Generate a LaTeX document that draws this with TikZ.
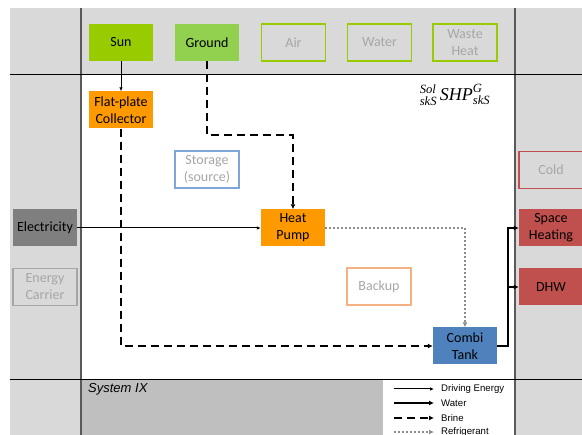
\documentclass[tikz,border=0pt]{standalone}
\usepackage{amsmath}
\usepackage{fontspec}
\setmainfont{Carlito}
\newfontfamily\arialfont{Liberation Sans}
\newfontfamily\timesfont{Liberation Serif}
\usetikzlibrary{arrows.meta}

\definecolor{bggray}{HTML}{D9D9D9}
\definecolor{botgray}{HTML}{BFBFBF}
\definecolor{framegray}{HTML}{595959}
\definecolor{dimtext}{HTML}{A6A6A6}
\definecolor{sungreen}{HTML}{99CC00}
\definecolor{gndgreen}{HTML}{92D050}
\definecolor{hporange}{HTML}{FF9900}
\definecolor{bkorange}{HTML}{F4B183}
\definecolor{tankblue}{HTML}{4F81BD}
\definecolor{stblue}{HTML}{7EA6D8}
\definecolor{sinkred}{HTML}{C0504D}
\definecolor{elecgray}{HTML}{7F7F7F}
\definecolor{refgray}{HTML}{8C8C8C}

\begin{document}
\begin{tikzpicture}[x=1pt,y=-1pt,
  box/.style={minimum width=64pt,minimum height=37pt,inner sep=0pt,
    align=center,font=\fontsize{14}{17}\selectfont},
  unused/.style={box,draw,line width=1.3pt,fill=bggray,text=dimtext},
  drive/.style={line width=1pt,-{Latex[length=4pt,width=3.5pt]}},
  water/.style={line width=2pt,-{Latex[length=5pt,width=5pt]}},
  brine/.style={line width=2pt,dash pattern=on 8pt off 5pt,-{Latex[length=5pt,width=5pt]}},
  refrig/.style={line width=2pt,refgray,dash pattern=on 2pt off 2pt,-{Latex[length=5pt,width=5pt]}},
  legtext/.style={anchor=west,inner sep=0pt,font=\arialfont\fontsize{9.6}{10}\selectfont}]
  \useasboundingbox (0,0) rectangle (582,435);
  \clip (0,0) rectangle (582,435);
  % background fields
  \fill[bggray] (10,8) rectangle (582,435);
  \fill[white] (81,74) rectangle (515,379);
  \fill[botgray] (81,379) rectangle (515,435);
  \fill[white] (383,379) rectangle (515,435);
  \draw[framegray,line width=1.2pt] (81,8) -- (81,435);
  \draw[framegray,line width=1.2pt] (515,8) -- (515,435);
  \draw[line width=0.8pt] (10,74) -- (582,74);
  \draw[line width=0.8pt] (10,379) -- (582,379);
  % instantiate nodes
  \node[box,fill=sungreen] (Sun) at (121,42.5) {Sun};
  \node[box,fill=gndgreen] (Gnd) at (207,42.5) {Ground};
  \node[unused,draw=sungreen] (Air) at (293.5,42.5) {Air};
  \node[unused,draw=sungreen] (Wat) at (379.5,42.5) {Water};
  \node[unused,draw=sungreen] (WH) at (465,42.5) {Waste\\Heat};
  \node[box,fill=hporange] (FPC) at (121,110) {Flat-plate\\Collector};
  \node[unused,draw=stblue,fill=white] (Sto) at (207,169.5) {Storage\\(source)};
  \node[box,fill=elecgray] (Elec) at (45,228) {Electricity};
  \node[unused,draw=dimtext] (EC) at (45,287) {Energy\\Carrier};
  \node[box,fill=hporange] (HP) at (293,228) {Heat\\Pump};
  \node[unused,draw=bkorange,fill=white] (Bak) at (379,286.5) {Backup};
  \node[box,fill=tankblue] (CT) at (465,346) {Combi\\Tank};
  \node[unused,draw=sinkred] (Cold) at (551,170) {Cold};
  \node[box,fill=sinkred] (SH) at (551,228) {Space\\Heating};
  \node[box,fill=sinkred] (DHW) at (551,287) {DHW};
  % system label and name
  \node[font=\timesfont\fontsize{18}{19}\selectfont] (Name) at (455,95)
    {$ {}^{\textit{Sol}}_{\textit{skS}}\,\textit{SHP}^{\textit{G}}_{\textit{skS}} $};
  \node[anchor=north west,inner sep=0pt,font=\arialfont\itshape\fontsize{13}{14}\selectfont]
    (Sys) at (88,383) {System IX};
  % connections
  \draw[drive] (Sun.south) -- (FPC.north);
  \draw[brine] (Gnd.south) -- ++(0,74) -| (HP.north);
  \draw[brine] (FPC.south) |- (CT.west);
  \draw[drive] (Elec.east) -- (HP.west);
  \draw[refrig] (HP.east) -| (CT.north);
  \draw[water] (CT.east) -- ++(11,0) |- (SH.west);
  \draw[water] (CT.east) -- ++(11,0) |- (DHW.west);
  % legend
  \node[legtext] (lDE) at (441,389) {Driving Energy};
  \node[legtext] (lW) at (441,403) {Water};
  \node[legtext] (lB) at (441,418) {Brine};
  \node[legtext] (lR) at (441,432) {Refrigerant};
  \draw[drive] ([xshift=-47pt]lDE.west) -- ([xshift=-7pt]lDE.west);
  \draw[water] ([xshift=-47pt]lW.west) -- ([xshift=-7pt]lW.west);
  \draw[brine] ([xshift=-47pt]lB.west) -- ([xshift=-7pt]lB.west);
  \draw[refrig] ([xshift=-47pt]lR.west) -- ([xshift=-7pt]lR.west);
\end{tikzpicture}
\end{document}
